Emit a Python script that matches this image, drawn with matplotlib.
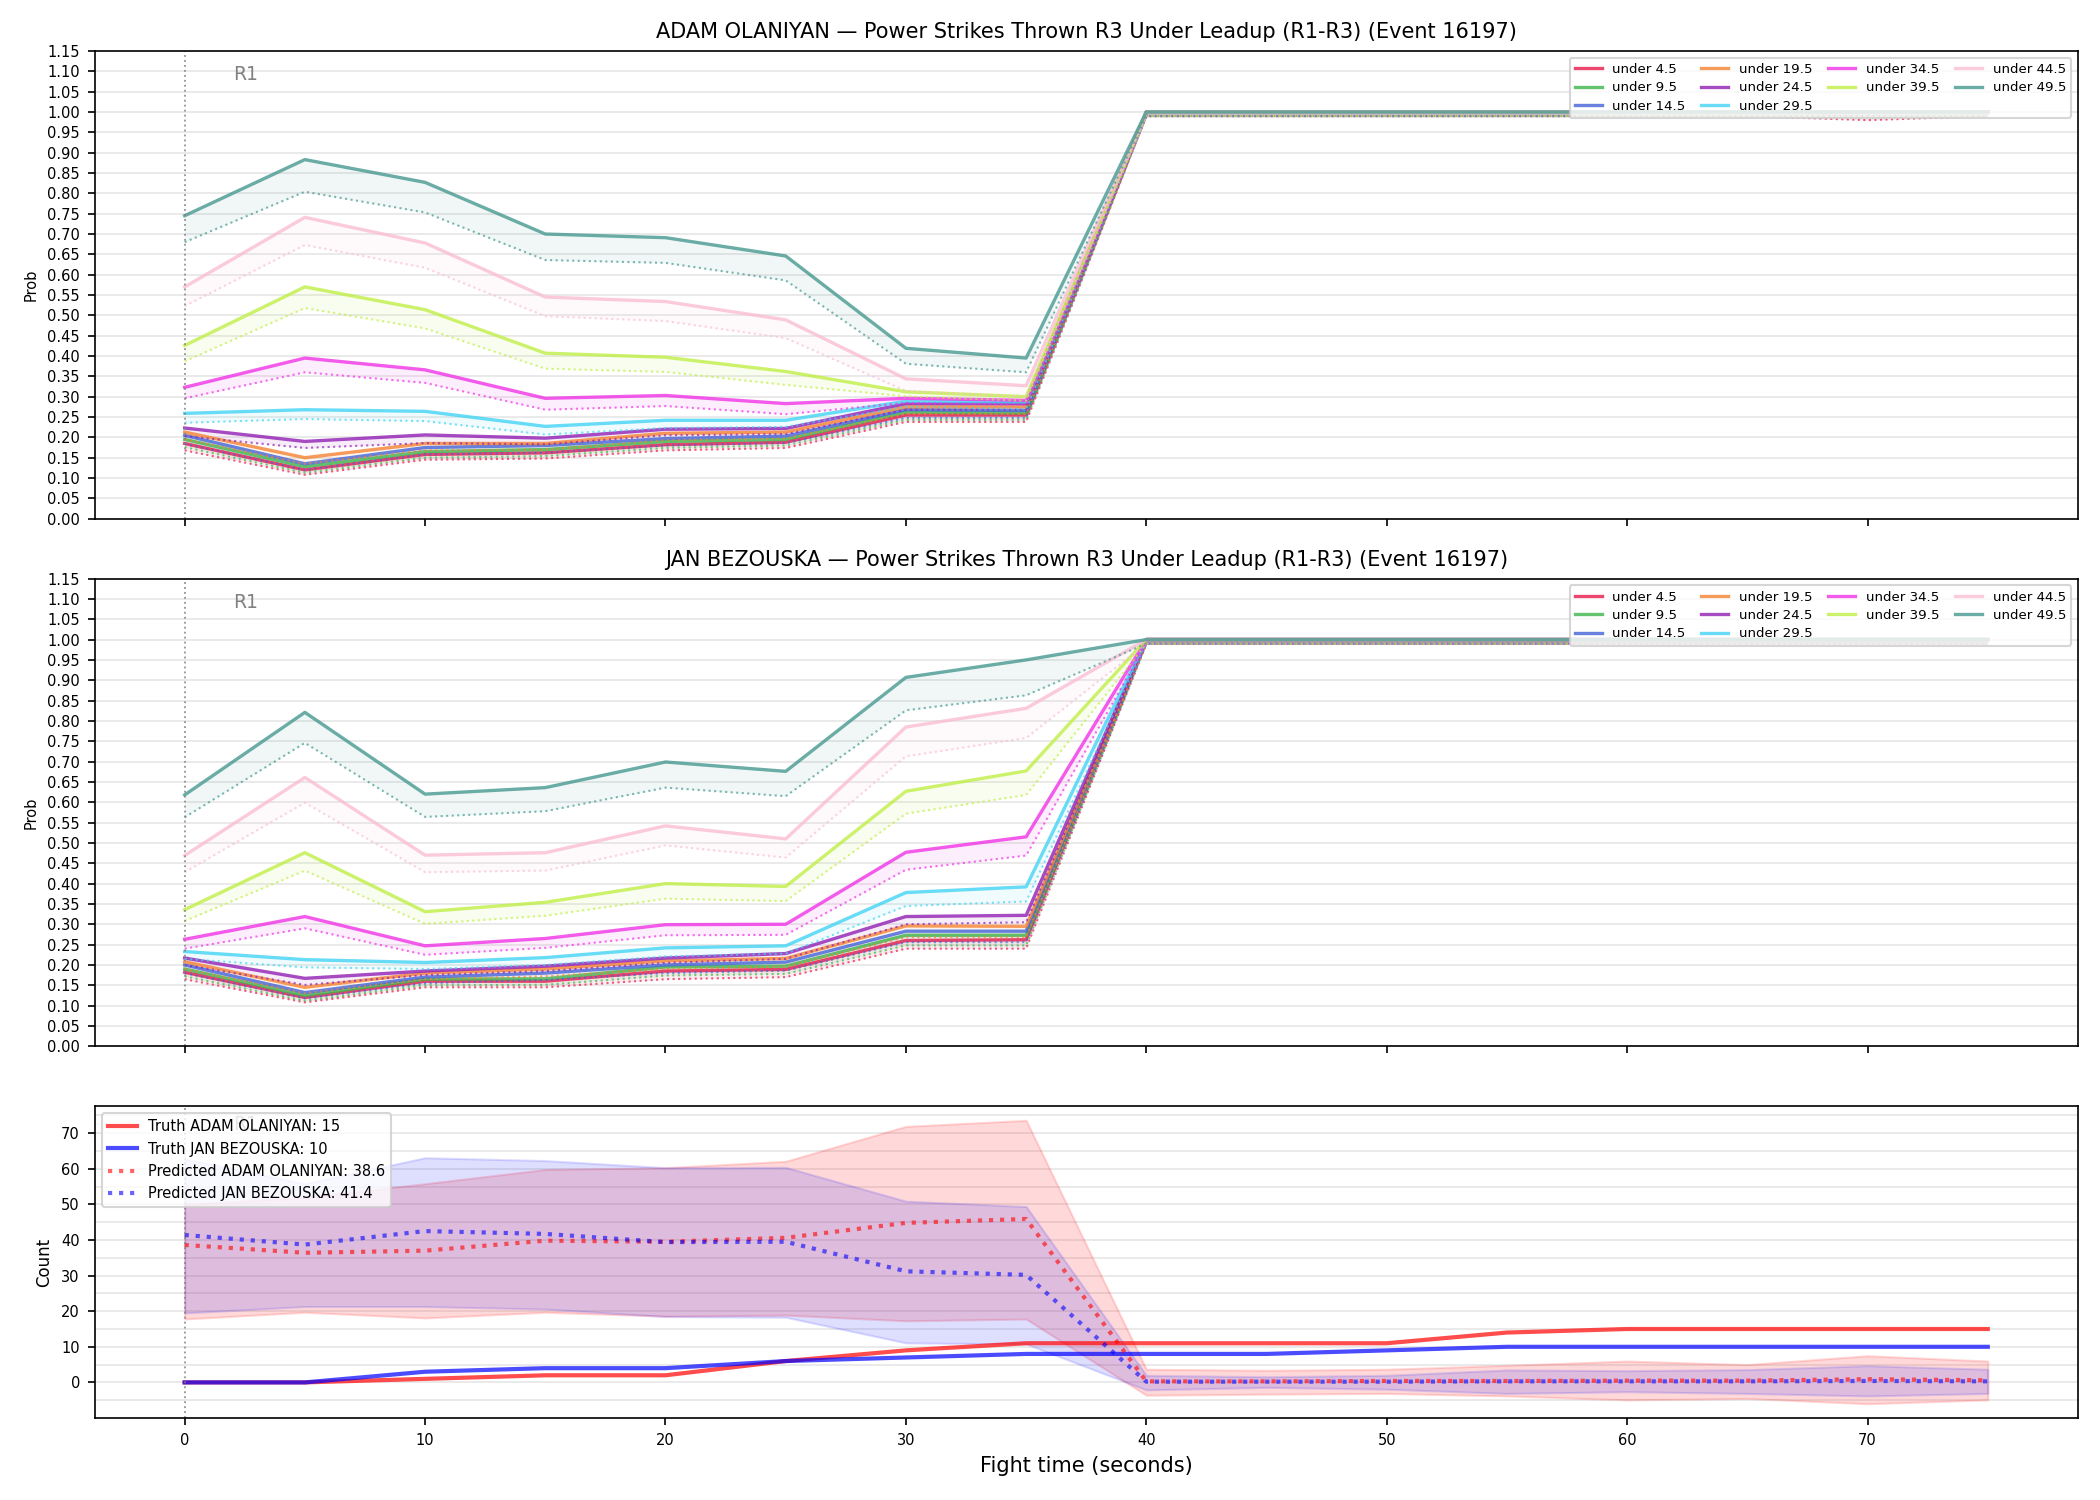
import numpy as np
import matplotlib
matplotlib.use("Agg")
import matplotlib.pyplot as plt
from matplotlib.ticker import MultipleLocator
import matplotlib.transforms as mtransforms

# fight time grid (seconds)
times = [0, 5, 10, 15, 20, 25, 30, 35, 40, 45, 50, 55, 60, 65, 70, 75]

thresholds = [4.5, 9.5, 14.5, 19.5, 24.5, 29.5, 34.5, 39.5, 44.5, 49.5]
line_colors = ['#e6194B', '#3cb44b', '#4363d8', '#f58231', '#911eb4',
               '#42d4f4', '#f032e6', '#bfef45', '#fabed4', '#469990']

# probabilities after 40s are flat
tail_solid = [1.00, 1.00, 1.00, 1.00, 1.00, 1.00, 1.00, 1.00]
tail_dotted = [0.99, 0.99, 0.99, 0.99, 0.99, 0.99, 0.99, 0.99]
tail_dotted_low = [0.99, 0.99, 0.99, 0.99, 0.99, 0.99, 0.98, 0.99]

# ADAM OLANIYAN, t = 0..35
adam_solid = [
    [0.185, 0.120, 0.158, 0.162, 0.182, 0.188, 0.255, 0.255],
    [0.195, 0.128, 0.165, 0.170, 0.190, 0.195, 0.262, 0.260],
    [0.205, 0.135, 0.175, 0.180, 0.197, 0.203, 0.268, 0.266],
    [0.213, 0.150, 0.185, 0.185, 0.210, 0.213, 0.275, 0.275],
    [0.223, 0.190, 0.206, 0.198, 0.220, 0.222, 0.283, 0.283],
    [0.259, 0.268, 0.264, 0.227, 0.242, 0.242, 0.289, 0.287],
    [0.323, 0.395, 0.366, 0.296, 0.303, 0.283, 0.296, 0.291],
    [0.426, 0.570, 0.514, 0.407, 0.397, 0.362, 0.312, 0.300],
    [0.570, 0.741, 0.678, 0.545, 0.534, 0.489, 0.344, 0.327],
    [0.745, 0.883, 0.827, 0.700, 0.691, 0.646, 0.419, 0.395],
]
adam_dotted = [
    [0.168, 0.108, 0.145, 0.148, 0.168, 0.174, 0.238, 0.238],
    [0.176, 0.113, 0.150, 0.154, 0.174, 0.180, 0.243, 0.243],
    [0.184, 0.120, 0.158, 0.162, 0.180, 0.186, 0.248, 0.248],
    [0.195, 0.135, 0.168, 0.170, 0.193, 0.197, 0.258, 0.258],
    [0.203, 0.174, 0.186, 0.183, 0.205, 0.208, 0.268, 0.268],
    [0.236, 0.245, 0.240, 0.207, 0.223, 0.226, 0.275, 0.270],
    [0.296, 0.360, 0.334, 0.268, 0.277, 0.257, 0.285, 0.280],
    [0.387, 0.518, 0.468, 0.369, 0.361, 0.329, 0.301, 0.290],
    [0.523, 0.673, 0.617, 0.498, 0.486, 0.444, 0.314, 0.300],
    [0.680, 0.804, 0.753, 0.636, 0.629, 0.586, 0.381, 0.360],
]

# JAN BEZOUSKA, t = 0..35
jan_solid = [
    [0.182, 0.120, 0.160, 0.160, 0.185, 0.189, 0.260, 0.262],
    [0.190, 0.125, 0.165, 0.166, 0.195, 0.197, 0.273, 0.273],
    [0.200, 0.132, 0.170, 0.180, 0.200, 0.207, 0.283, 0.283],
    [0.208, 0.145, 0.180, 0.190, 0.210, 0.216, 0.296, 0.295],
    [0.217, 0.167, 0.185, 0.197, 0.217, 0.228, 0.319, 0.322],
    [0.233, 0.213, 0.206, 0.218, 0.242, 0.247, 0.378, 0.392],
    [0.263, 0.319, 0.247, 0.265, 0.299, 0.300, 0.477, 0.515],
    [0.336, 0.476, 0.331, 0.354, 0.400, 0.393, 0.627, 0.677],
    [0.469, 0.661, 0.470, 0.476, 0.542, 0.510, 0.785, 0.831],
    [0.618, 0.821, 0.620, 0.636, 0.699, 0.676, 0.907, 0.950],
]
jan_dotted = [
    [0.165, 0.108, 0.145, 0.145, 0.165, 0.170, 0.240, 0.240],
    [0.172, 0.112, 0.150, 0.151, 0.174, 0.178, 0.248, 0.248],
    [0.180, 0.118, 0.155, 0.163, 0.180, 0.186, 0.256, 0.256],
    [0.190, 0.130, 0.165, 0.172, 0.190, 0.196, 0.268, 0.268],
    [0.200, 0.151, 0.175, 0.185, 0.205, 0.215, 0.300, 0.305],
    [0.215, 0.194, 0.190, 0.200, 0.221, 0.228, 0.345, 0.356],
    [0.240, 0.290, 0.225, 0.242, 0.273, 0.274, 0.434, 0.469],
    [0.308, 0.432, 0.301, 0.321, 0.363, 0.357, 0.572, 0.618],
    [0.428, 0.599, 0.428, 0.432, 0.494, 0.464, 0.713, 0.758],
    [0.563, 0.746, 0.564, 0.578, 0.636, 0.615, 0.826, 0.863],
]

# counts panel
red_truth = [0, 0, 1, 2, 2, 6, 9, 11, 11, 11, 11, 14, 15, 15, 15, 15]
blue_truth = [0, 0, 3, 4, 4, 6, 7, 8, 8, 8, 9, 10, 10, 10, 10, 10]
red_pred = [38.6, 36.4, 37.0, 39.8, 39.5, 40.6, 44.8, 45.9, 0.3, 0.3, 0.4, 0.4, 0.5, 0.5, 0.9, 0.6]
blue_pred = [41.4, 38.7, 42.5, 41.7, 39.4, 39.5, 31.2, 30.2, 0.2, 0.2, 0.2, 0.3, 0.3, 0.3, 0.4, 0.3]
red_hi = [50.0, 52.0, 55.8, 59.8, 60.3, 62.1, 71.9, 73.6, 3.7, 3.4, 3.7, 4.8, 6.0, 5.0, 7.5, 6.0]
red_lo = [17.8, 19.7, 18.1, 19.7, 18.6, 18.9, 17.3, 17.8, -3.6, -3.3, -3.1, -3.8, -4.9, -4.5, -6.0, -4.9]
blue_hi = [62.8, 55.8, 63.1, 62.3, 60.3, 60.4, 50.9, 49.4, 2.0, 1.6, 2.0, 3.5, 3.3, 3.6, 4.7, 3.7]
blue_lo = [19.5, 21.3, 21.3, 20.6, 18.5, 18.3, 11.1, 10.8, -2.1, -1.4, -1.9, -3.1, -2.6, -3.1, -3.8, -3.1]

name_a = "ADAM OLANIYAN"
name_b = "JAN BEZOUSKA"
stat = "Power Strikes Thrown R3 Under Leadup (R1-R3) (Event 16197)"

fig, axes = plt.subplots(3, 1, figsize=(14, 10), dpi=150, sharex=True,
                         gridspec_kw={'height_ratios': [3, 3, 2]})
fig.subplots_adjust(left=0.045, right=0.9895, top=0.966, bottom=0.0547, hspace=0.144)


def round_marker(ax):
    ax.axvline(0, color='gray', linestyle=':', linewidth=0.9, alpha=0.8)
    trans = mtransforms.blended_transform_factory(ax.transData, ax.transAxes)
    ax.text(2, 0.97, "R1", transform=trans, color='gray', fontsize=9, va='top', ha='left')


def prob_panel(ax, solid, dotted, name):
    for i, th in enumerate(thresholds):
        s = solid[i] + tail_solid
        d = dotted[i] + (tail_dotted_low if i == 0 and name == name_a else tail_dotted)
        c = line_colors[i]
        ax.plot(times, s, color=c, linewidth=1.6, alpha=0.8, label=f"under {th}")
        ax.plot(times, d, color=c, linewidth=1.0, linestyle=':', alpha=0.7)
        ax.fill_between(times, d, s, color=c, alpha=0.08, linewidth=0)
    round_marker(ax)
    ax.set_ylim(0, 1.15)
    ax.yaxis.set_major_locator(MultipleLocator(0.05))
    ax.set_ylabel("Prob", fontsize=7)
    ax.set_title(f"{name} — {stat}", fontsize=10)
    ax.grid(axis='y', color='#e6e6e6', linewidth=0.8)
    ax.set_axisbelow(True)
    ax.tick_params(labelsize=7)
    ax.legend(loc='upper right', ncol=4, fontsize=6.4, framealpha=0.8,
              handlelength=2.0, columnspacing=1.2, labelspacing=0.4)


prob_panel(axes[0], adam_solid, adam_dotted, name_a)
prob_panel(axes[1], jan_solid, jan_dotted, name_b)

ax = axes[2]
ax.fill_between(times, red_lo, red_hi, color='red', alpha=0.15, linewidth=1)
ax.fill_between(times, blue_lo, blue_hi, color='blue', alpha=0.13, linewidth=1)
ax.plot(times, red_truth, color='red', linewidth=2, alpha=0.7, label=f"Truth {name_a}: 15")
ax.plot(times, blue_truth, color='blue', linewidth=2, alpha=0.7, label=f"Truth {name_b}: 10")
ax.plot(times, red_pred, color='red', linewidth=2, linestyle=':', alpha=0.6,
        label=f"Predicted {name_a}: 38.6")
ax.plot(times, blue_pred, color='blue', linewidth=2, linestyle=':', alpha=0.6,
        label=f"Predicted {name_b}: 41.4")
round_marker(ax)
ax.yaxis.set_major_locator(MultipleLocator(10))
ax.yaxis.set_minor_locator(MultipleLocator(5))
ax.tick_params(which='minor', length=0)
ax.grid(axis='y', which='both', color='#e6e6e6', linewidth=0.8)
ax.set_axisbelow(True)
ax.tick_params(labelsize=7)
ax.set_ylabel("Count", fontsize=8)
ax.set_xlabel("Fight time (seconds)", fontsize=10)
ax.legend(loc='upper left', fontsize=7, framealpha=0.8)
ax.xaxis.set_major_locator(MultipleLocator(10))

fig.savefig("out.png", dpi=150)
